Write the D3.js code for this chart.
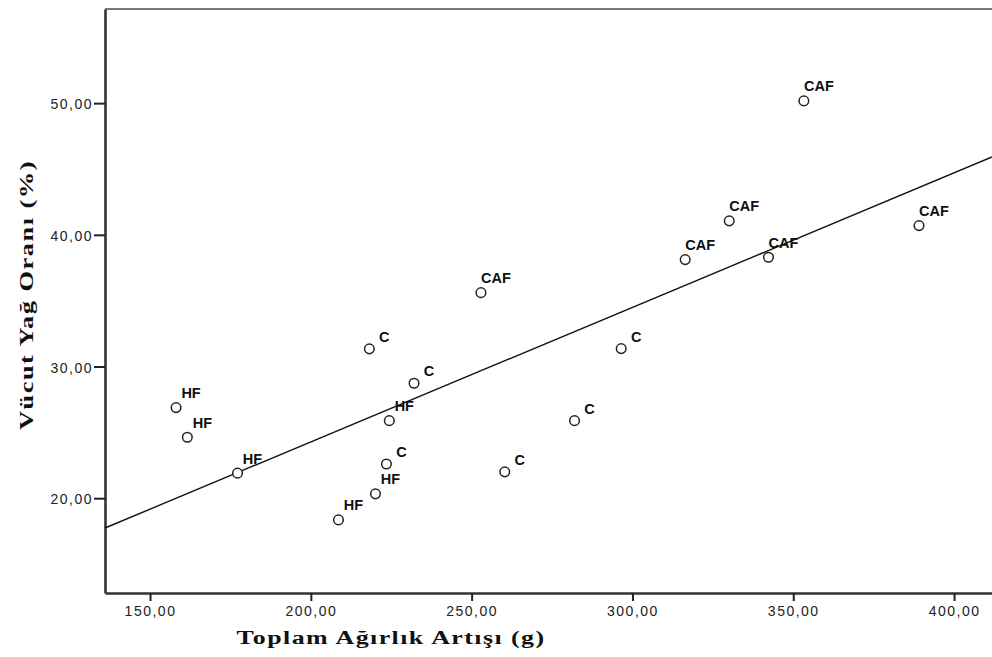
<!DOCTYPE html>
<html>
<head>
<meta charset="utf-8">
<script src="https://cdn.jsdelivr.net/npm/d3@7"></script>
<style>
  body { margin: 0; background: #fff; }
  .tick text { font-family: "Liberation Sans", Arial, sans-serif; font-size: 14px; letter-spacing: 1.5px; fill: #222; }
  .axis-title { font-family: "Liberation Serif", "Times New Roman", serif; font-weight: bold; font-size: 18px; letter-spacing: 1px; fill: #111; }
  .pt-label { font-family: "Liberation Sans", Arial, sans-serif; font-weight: bold; font-size: 14.5px; fill: #111; }
</style>
</head>
<body>
<div id="chart"></div>
<script>
// group label for every animal
var groups = ["HF", "HF", "HF", "HF", "HF", "HF",
              "C", "C", "C", "C", "C", "C",
              "CAF", "CAF", "CAF", "CAF", "CAF", "CAF"];
// Toplam Ağırlık Artışı (g)
var weightGain = [158.1, 161.6, 177.2, 224.4, 220.1, 208.6,
                  218.2, 232.1, 223.5, 260.3, 282.0, 296.5,
                  252.9, 353.3, 330.1, 316.4, 342.3, 389.1];
// Vücut Yağ Oranı (%)
var bodyFat = [26.88, 24.63, 21.90, 25.89, 20.33, 18.35,
               31.34, 28.73, 22.60, 22.00, 25.89, 31.36,
               35.61, 50.17, 41.06, 38.12, 38.30, 40.70];

var xTicks = [150, 200, 250, 300, 350, 400];
var yTicks = [20, 30, 40, 50];

var W = 992, H = 657;
var margin = {top: 9, right: 0, bottom: 64, left: 105};

var svg = d3.select("#chart").append("svg")
    .attr("width", W)
    .attr("height", H);

var x = d3.scaleLinear().domain([136, 411.8]).range([margin.left, W - margin.right]);
var y = d3.scaleLinear().domain([12.8, 57.15]).range([H - margin.bottom, margin.top]);

var data = groups.map(function(g, i) { return {g: g, x: weightGain[i], y: bodyFat[i]}; });

// least squares fit line
var mx = d3.mean(weightGain), my = d3.mean(bodyFat);
var sxy = d3.sum(data, function(d) { return (d.x - mx) * (d.y - my); });
var sxx = d3.sum(data, function(d) { return (d.x - mx) * (d.x - mx); });
var slope = sxy / sxx, intercept = my - slope * mx;

var fmt = function(d) { return d3.format(".2f")(d).replace(".", ","); };

// top frame
svg.append("line")
    .attr("x1", margin.left).attr("x2", W)
    .attr("y1", margin.top).attr("y2", margin.top)
    .attr("stroke", "#7a7a7a").attr("stroke-width", 2.2);

// X axis
var gx = svg.append("g")
    .attr("transform", "translate(0," + (H - margin.bottom) + ")")
    .call(d3.axisBottom(x).tickValues(xTicks).tickFormat(fmt).tickSize(8).tickSizeOuter(0));
gx.select(".domain").attr("stroke", "#333").attr("stroke-width", 2.4);
gx.selectAll(".tick line").attr("stroke", "#222").attr("stroke-width", 2);
gx.selectAll(".tick text").attr("y", 13);

// Y axis
var gy = svg.append("g")
    .attr("transform", "translate(" + margin.left + ",0)")
    .call(d3.axisLeft(y).tickValues(yTicks).tickFormat(fmt).tickSize(11).tickSizeOuter(0));
gy.select(".domain").attr("stroke", "#333").attr("stroke-width", 2.6);
gy.selectAll(".tick line").attr("stroke", "#222").attr("stroke-width", 2);
gy.selectAll(".tick text").attr("x", -12).attr("dy", "0.4em");

// fit line
svg.append("line")
    .attr("x1", x(136)).attr("y1", y(intercept + slope * 136))
    .attr("x2", x(411.8)).attr("y2", y(intercept + slope * 411.8))
    .attr("stroke", "#111").attr("stroke-width", 1.4);

// points
svg.selectAll("circle.pt")
    .data(data)
  .enter().append("circle")
    .attr("class", "pt")
    .attr("cx", function(d) { return x(d.x); })
    .attr("cy", function(d) { return y(d.y); })
    .attr("r", 4.8)
    .attr("fill", "#fff")
    .attr("stroke", "#222")
    .attr("stroke-width", 1.5);

svg.selectAll("text.pt-label")
    .data(data)
  .enter().append("text")
    .attr("class", "pt-label")
    .attr("x", function(d) { return x(d.x) + 15; })
    .attr("y", function(d) { return y(d.y) - (d.g == "C" ? 7 : 9.5); })
    .attr("text-anchor", "middle")
    .text(function(d) { return d.g; });

// axis titles
svg.append("text")
    .attr("class", "axis-title")
    .attr("x", 391).attr("y", 644)
    .attr("text-anchor", "middle")
    .attr("textLength", 309).attr("lengthAdjust", "spacingAndGlyphs")
    .text("Toplam Ağırlık Artışı (g)");

svg.append("text")
    .attr("class", "axis-title")
    .attr("transform", "translate(33,295) rotate(-90)")
    .attr("text-anchor", "middle")
    .attr("textLength", 270).attr("lengthAdjust", "spacingAndGlyphs")
    .text("Vücut Yağ Oranı (%)");
</script>
</body>
</html>
